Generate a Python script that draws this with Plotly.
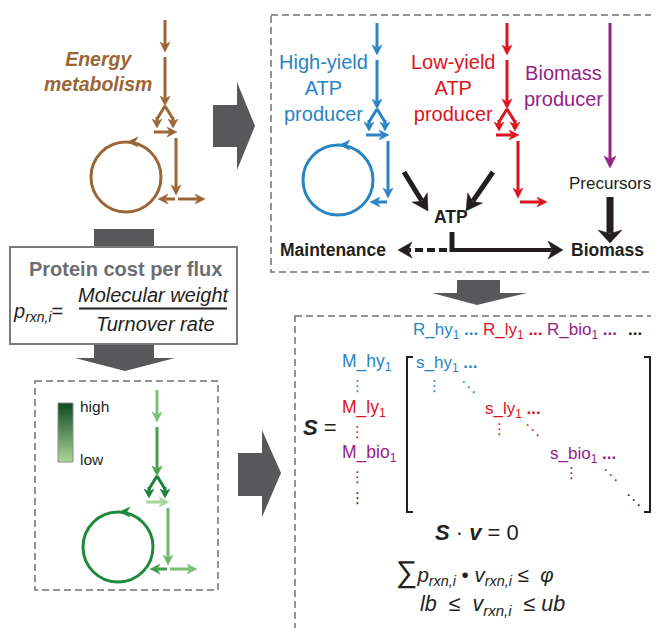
import math
import plotly.graph_objects as go

# ---------------- data (labels only) ----------------
panel_title = ["Energy", "metabolism"]
module_labels = [["High-yield", "ATP", "producer"], ["Low-yield", "ATP", "producer"], ["Biomass", "producer"]]
module_groups = ["hy", "ly", "bio"]
node_labels = ["Precursors", "ATP", "Maintenance", "Biomass"]
cost_title = "Protein cost per flux"
cost_numerator = "Molecular weight"
cost_denominator = "Turnover rate"
legend_labels = ["high", "low"]

# ---------------- styles ----------------
W, H = 659, 628
OFF = 8  # default page body margin
FONT = "Liberation Sans, Arial, Helvetica, sans-serif"
BROWN = "#9C6535"
BLUE = "#2A84C4"
RED = "#DC141E"
PURPLE = "#962187"
GRAY_ARROW = "#58585B"
DASH_GRAY = "#707070"
BLACK = "#231F20"
group_colors = [BLUE, RED, PURPLE]

shapes = []
annotations = []


def line(x0, y0, x1, y1, color, w=3, dash=None):
    ln = dict(color=color, width=w)
    if dash:
        ln["dash"] = dash
    shapes.append(dict(type="line", xref="x", yref="y", x0=x0, y0=y0, x1=x1, y1=y1, line=ln, layer="above"))


def head(x1, y1, ux, uy, color, hl, hw):
    px, py = -uy, ux
    bx, by = x1 - ux * hl, y1 - uy * hl
    nx, ny = x1 - ux * hl * 0.72, y1 - uy * hl * 0.72
    path = (f"M {x1:.2f},{y1:.2f} L {bx + px * hw:.2f},{by + py * hw:.2f} "
            f"L {nx:.2f},{ny:.2f} L {bx - px * hw:.2f},{by - py * hw:.2f} Z")
    shapes.append(dict(type="path", xref="x", yref="y", path=path, fillcolor=color,
                       line=dict(color=color, width=0.5), layer="above"))


def arrow(x0, y0, x1, y1, color, w=3, hl=10, hw=5, dash=None):
    dx, dy = x1 - x0, y1 - y0
    L = math.hypot(dx, dy)
    ux, uy = dx / L, dy / L
    ex, ey = x1 - ux * hl * 0.75, y1 - uy * hl * 0.75
    line(x0, y0, ex, ey, color, w, dash)
    head(x1, y1, ux, uy, color, hl, hw)


def rect(x0, y0, x1, y1, line_color, w=1.5, dash=None, fill=None, layer="below"):
    ln = dict(color=line_color, width=w)
    if dash:
        ln["dash"] = dash
    d = dict(type="rect", xref="x", yref="y", x0=x0, y0=y0, x1=x1, y1=y1, line=ln, layer=layer)
    if fill:
        d["fillcolor"] = fill
    shapes.append(d)


def poly(pts, color):
    path = "M " + " L ".join(f"{x},{y}" for x, y in pts) + " Z"
    shapes.append(dict(type="path", xref="x", yref="y", path=path, fillcolor=color,
                       line=dict(width=0), layer="below"))


def ann(x, y, text, size, color, xanchor="center", yanchor="middle", family=FONT):
    annotations.append(dict(x=x, y=y, xref="x", yref="y", text=text, showarrow=False,
                            font=dict(family=family, size=size, color=color),
                            xanchor=xanchor, yanchor=yanchor, borderpad=0))


def motif(x, y, c, circle=True, left=True, right=True):
    arrow(x, y, x, y + 32, c["top"])
    arrow(x, y + 37, x, y + 86, c["mid"], hl=10, hw=5)
    # fork (Λ with two downward heads)
    line(x, y + 86, x - 8, y + 99, c["fork"], 3)
    line(x, y + 86, x + 8, y + 99, c["fork"], 3)
    arrow(x - 8, y + 97, x - 8, y + 108, c["fork"], hl=9, hw=5)
    arrow(x + 8, y + 97, x + 8, y + 108, c["fork"], hl=9, hw=5)
    arrow(x - 11, y + 112, x + 12, y + 112, c["horiz"])
    arrow(x + 11, y + 118, x + 11, y + 175, c["vert"])
    if left:
        arrow(x + 10, y + 179, x - 7, y + 179, c["left"])
    if right:
        arrow(x + 13, y + 179, x + 40, y + 179, c["right"])
    if circle:
        cx, cy, r = x - 39, y + 157, 35
        shapes.append(dict(type="circle", xref="x", yref="y", x0=cx - r, y0=cy - r, x1=cx + r, y1=cy + r,
                           line=dict(color=c["circ"], width=3), layer="above"))
        head(x - 38, y + 122, -1, 0, c["circ"], 11, 5)


def mono(col):
    return dict(top=col, mid=col, fork=col, horiz=col, vert=col, left=col, right=col, circ=col)


# ---------------- top-left: energy metabolism ----------------
ann(98, 71, "<b><i>" + "<br>".join(panel_title) + "</i></b>", 19.5, BROWN)
motif(165, 20, mono(BROWN))

# big gray arrow to the right
poly([(213, 105), (237, 105), (237, 82), (255, 126), (237, 170), (237, 147), (213, 147)], GRAY_ARROW)

# ---------------- top-right: modules ----------------
rect(271, 15, 656, 272, DASH_GRAY, 1.5, "7px,4px")
motif(377, 23, mono(BLUE), circle=True, left=True, right=False)
motif(507, 23, mono(RED), circle=False, left=False, right=True)
ann(323, 88, "<br>".join(module_labels[0]), 20, group_colors[0])
ann(453, 88, "<br>".join(module_labels[1]), 20, group_colors[1])
ann(563, 86, "<br>".join(module_labels[2]), 20, group_colors[2])
arrow(610, 23, 610, 168, PURPLE, w=3, hl=12, hw=6)

ann(610, 183, node_labels[0], 17, BLACK)
arrow(610, 197, 610, 243, BLACK, w=7, hl=13, hw=12)
ann(451, 217, "<b>" + node_labels[1] + "</b>", 17.5, BLACK)
arrow(404, 172, 428, 211, BLACK, w=5, hl=16, hw=9)
arrow(493, 172, 466, 211, BLACK, w=5, hl=16, hw=9)
line(452, 232, 452, 252, BLACK, 5)
arrow(450, 250, 563, 250, BLACK, w=4, hl=15, hw=9)
arrow(447, 250, 398, 250, BLACK, w=4, hl=14, hw=8, dash="8px,4px")
ann(333, 250, "<b>" + node_labels[2] + "</b>", 17.5, BLACK)
ann(607, 250, "<b>" + node_labels[3] + "</b>", 17.5, BLACK)

# gray arrow down between right boxes
poly([(457, 280), (500, 280), (500, 293), (527, 293), (477, 305), (432, 293), (457, 293)], GRAY_ARROW)

# ---------------- left middle: protein cost box ----------------
rect(94, 229, 154, 250, GRAY_ARROW, 0, fill=GRAY_ARROW)
poly([(94, 340), (154, 340), (154, 358), (175, 358), (125, 371), (75, 358), (94, 358)], GRAY_ARROW)
rect(10, 247, 237, 344, "#7A7A7A", 2, fill="white")
ann(125, 269, "<b>" + cost_title + "</b>", 20, "#6D6E71")
ann(12, 312, "<i>p<sub>rxn,i</sub></i>=", 20, BLACK, xanchor="left")
ann(154, 295, "<i>" + cost_numerator + "</i>", 20, BLACK)
line(79, 308.5, 227, 308.5, BLACK, 2)
ann(155, 324, "<i>" + cost_denominator + "</i>", 20, BLACK)

# ---------------- bottom-left: cost-colored network ----------------
rect(35, 381, 218, 590, DASH_GRAY, 1.5, "7px,4px")
n = 30
top_col, bot_col = (16, 76, 38), (168, 212, 147)
for i in range(n):
    t = i / (n - 1)
    col = tuple(int(round(top_col[k] + (bot_col[k] - top_col[k]) * t)) for k in range(3))
    y0 = 403 + (462 - 403) * i / n
    y1 = 403 + (462 - 403) * (i + 1) / n
    shapes.append(dict(type="rect", xref="x", yref="y", x0=58, x1=73, y0=y0, y1=min(y1 + 1.5, 462),
                       fillcolor="rgb(%d,%d,%d)" % col, line=dict(width=0), layer="above"))
rect(58, 403, 73, 462, "#8A8A8A", 1, layer="above")
ann(79, 406, legend_labels[0], 15.5, BLACK, xanchor="left")
ann(79, 459, legend_labels[1], 15.5, BLACK, xanchor="left")
green = dict(top="#7BC07A", mid="#4A9F50", fork="#1B8038", horiz="#A8D59B",
             vert="#6DB76B", left="#439B4C", right="#78BE75", circ="#1E8A3A")
motif(157, 390, green)

# gray arrow to the right
poly([(238, 453), (262, 453), (262, 430), (281, 473), (262, 517), (262, 496), (238, 496)], GRAY_ARROW)

# ---------------- bottom-right: stoichiometric matrix ----------------
rect(295, 316, 656, 640, DASH_GRAY, 1.5, "7px,4px")

col_x = [412, 482, 546]
for g, col, x in zip(module_groups, group_colors, col_x):
    ann(x, 331, f"R_{g}<sub>1</sub> <b>...</b>", 17, col, xanchor="left")
ann(627, 329, "<b>...</b>", 17, BLACK, xanchor="left")

row_y = [362, 408, 453]
for g, col, y in zip(module_groups, group_colors, row_y):
    ann(341, y, f"M_{g}<sub>1</sub>", 17.5, col, xanchor="left")
    ann(357, y + 24, "⋮", 15, col, family="DejaVu Sans")
ann(357, 498, "⋮", 15, BLACK, family="DejaVu Sans")

ann(302, 427, "<b><i>S</i></b> =", 22, BLACK, xanchor="left")

# brackets
shapes.append(dict(type="path", xref="x", yref="y", path="M 413,357 L 407,357 L 407,512 L 413,512",
                   line=dict(color=BLACK, width=2), layer="above"))
shapes.append(dict(type="path", xref="x", yref="y", path="M 644,357 L 650,357 L 650,512 L 644,512",
                   line=dict(color=BLACK, width=2), layer="above"))

diag_pos = [(415, 364), (484, 410), (549, 455)]
vd_pos = [(434, 386), (499, 429), (571, 473)]
dd_pos = [(468, 387), (532, 430), (610, 475)]
for g, col, (x, y), (vx, vy), (dx, dy) in zip(module_groups, group_colors, diag_pos, vd_pos, dd_pos):
    ann(x, y, f"s_{g}<sub>1</sub> <b>...</b>", 17, col, xanchor="left")
    ann(vx, vy, "⋮", 15, col, family="DejaVu Sans")
    ann(dx, dy, "⋱", 15, col, family="DejaVu Sans")
ann(633, 500, "⋱", 15, BLACK, family="DejaVu Sans")

ann(477, 532, "<b><i>S</i></b> · <b><i>v</i></b> = 0", 22, BLACK)
ann(475, 572, "<span style='font-size:30px'>∑</span><i>p<sub>rxn,i</sub></i> • <i>v<sub>rxn,i</sub></i> ≤  <i>φ</i>",
    20.5, BLACK)
ann(492, 605, "<i>lb</i>  ≤  <i>v<sub>rxn,i</sub></i>  ≤ <i>ub</i>", 21.5, BLACK)

fig = go.Figure()
fig.update_layout(
    width=W - OFF, height=H - OFF, margin=dict(l=0, r=0, t=0, b=0),
    paper_bgcolor="white", plot_bgcolor="white",
    xaxis=dict(range=[OFF, W], visible=False, fixedrange=True),
    yaxis=dict(range=[H, OFF], visible=False, fixedrange=True),
    shapes=shapes, annotations=annotations, showlegend=False,
)
fig.write_html("out.html")
